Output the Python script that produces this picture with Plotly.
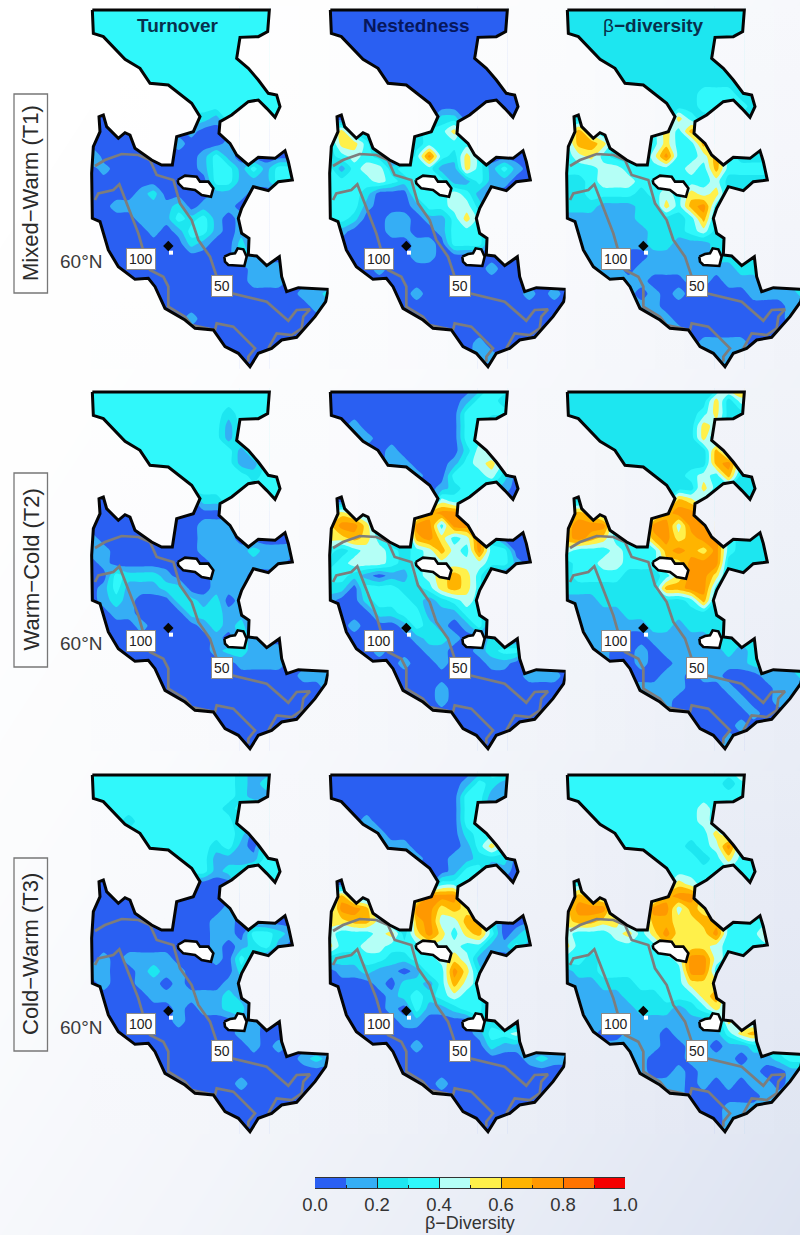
import plotly.graph_objects as go

W, H = 800, 1235
COL_X = [85, 323, 560]
ROW_Y = [0, 382, 765]
PANEL_W = [250, 250, 240]
PANEL_H = 375

CELL_U = [19, 56, 94, 131, 169, 206, 244, 281, 319, 356, 394, 431, 469, 506, 544, 581, 619, 656, 694, 731]
CELL_V = [19, 56, 94, 131, 169, 206, 244, 281, 319, 356, 394, 431, 469, 506, 544, 581, 619, 656, 694, 731, 769, 806,
          844, 881, 919, 956, 994, 1031, 1069, 1106]

LEVEL_COLORS = ["#2a5ff2", "#35aef5", "#1de6f0", "#30f8fb", "#b4fff6", "#fff04a", "#ffb400", "#ff9800", "#ff7400", "#f50000"]
BAR_TICKS = [0.0, 0.2, 0.4, 0.6, 0.8, 1.0]
BAR_VALUES = [0.05, 0.15, 0.25, 0.35, 0.45, 0.55, 0.65, 0.75, 0.85, 0.95]

COLUMN_TITLES = ["<b>Turnover</b>", "<b>Nestedness</b>", "β<b>−diversity</b>"]
TITLE_COLORS = ["#07304c", "#06175c", "#07304c"]
ROW_TITLES = ["Mixed−Warm (T1)", "Warm−Cold (T2)", "Cold−Warm (T3)"]
ROW_BOXES = [(94, 293), (473, 667), (858, 1051)]
BAR_TITLE = "β−Diversity"

MAP_U = [22, 553, 548, 520, 465, 455, 490, 520, 550, 575, 585, 570, 545, 520, 490, 440, 405, 402, 435, 455, 490, 520, 570,
         600, 610, 622, 580, 550, 505, 490, 470, 460, 470, 492, 490, 515, 545, 583, 590, 605, 640, 730, 722, 690, 660,
         635, 590, 560, 520, 495, 460, 420, 385, 330, 300, 240, 210, 190, 150, 100, 70, 45, 22, 20, 25, 45, 42, 55, 65,
         100, 120, 135, 150, 200, 230, 262, 275, 325, 345, 320, 250, 195, 165, 120, 55, 25, 22]
MAP_V = [30, 30, 95, 110, 112, 175, 205, 240, 280, 285, 320, 352, 325, 300, 305, 345, 365, 400, 430, 465, 495, 472, 475,
         452, 485, 540, 545, 572, 560, 590, 625, 655, 700, 715, 765, 768, 797, 770, 830, 875, 863, 868, 905, 950, 985,
         1012, 1020, 1045, 1060, 1100, 1060, 1040, 990, 985, 960, 925, 860, 835, 838, 800, 750, 665, 655, 520, 440, 395,
         350, 345, 380, 415, 398, 405, 445, 480, 495, 495, 410, 395, 350, 310, 255, 250, 205, 178, 110, 100, 30]
LAKE1_U = [278, 300, 335, 345, 370, 385, 378, 350, 330, 295, 280, 278]
LAKE1_V = [540, 527, 530, 545, 545, 565, 590, 585, 570, 565, 550, 540]
LAKE2_U = [418, 435, 450, 458, 475, 485, 478, 450, 430, 420, 418]
LAKE2_V = [770, 762, 760, 745, 748, 770, 798, 797, 795, 785, 770]
ISLET_U = [250]
ISLET_V = [738]
ISLET2_U = [258]
ISLET2_V = [758]
LINE50_U = [30, 60, 110, 160, 195, 215, 265, 285, 320, 340, 375, 395, 440, 545, 610, 635, 675, 655, 650, 620, 575, 565, 550]
LINE50_V = [498, 480, 462, 465, 480, 525, 540, 610, 660, 720, 770, 830, 880, 905, 962, 930, 928, 950, 985, 1005, 1000, 1020, 1045]
LINE100_U = [30, 40, 85, 103, 125, 160, 180, 195, 235, 250, 250, 300, 320, 390, 395, 445, 510, 490, 490]
LINE100_V = [600, 580, 570, 553, 610, 700, 770, 810, 830, 860, 920, 950, 975, 990, 970, 980, 1045, 1070, 1085]
LABEL_100 = (167, 777)
LABEL_50 = (410, 858)

T1_TURNOVER = ["3", "3", "3", "3", "3", "3", "3", "3", "3", "0000000022133333",
    "00000000100000000000", "00000001000110000000", "20000000013100000000", "01000000013313133333",
    "00000000003311133300", "00001200001110000000", "00111112011100000000", "00001113231010000000",
    "00000101331010000000", "00000000210020000000", "00000000000021000000", "00000000000001110000",
    "00000000000001110000", "00000000000000000112", "00000000000000000011", "00000000100000000000",
    "0", "0", "0", "0"]
T1_NESTEDNESS = ["0", "0", "0", "0", "0", "0", "0", "0", "0", "000000000220",
    "35210002335100000000", "25530002333300000000", "23432003732530000000", "31344233311531310000",
    "33334323331131100000", "33320003334310000000", "33310001334420000000", "33200110113530000000",
    "01000110013330000000", "00000001103330000000", "00000001100000000000", "00001000000001000000",
    "0", "00000001000000001010", "0", "0", "0", "00000000000010000000", "00000000000011000000", "0"]
T1_BETA = ["2", "2", "2", "2", "2", "2", "2", "22222222222333222222", "22222222222333322222", "22222222253222222222",
    "36422223536522222222", "36652223533632222222", "34532224733463222222", "33344333334363333322",
    "22344433333342222222", "22333323435452222222", "22211122536732222222", "11111122223622222222",
    "11111112223422222222", "11111112211122222222", "11111001111122222222", "11111011111111222222",
    "11111110001101112222", "11111101010000011112", "11111111000000000011", "11111111100000000011",
    "11111111110000000000", "11111111110111100000", "11111111111111100000", "11111111111111100000"]
T2_TURNOVER = ["3", "3", "33333333333233333333", "33333333333133333333", "33333333333133333333",
    "33333333333313333333", "33333333333311333333", "33333333333332333333", "3", "0000000002233333",
    "0", "00000000011100000000", "10000000011100000000", "11000000011112111000", "01000000001111110000",
    "00322210001110000000", "01311122001110000000", "01210002212010000000", "00110000222110000000",
    "00001000012120000000", "00000000001021000000", "00000000001221110000", "00000000000011110000",
    "00000000000000000111", "00000000000000000001", "0", "0", "0", "0", "0"]
T2_NESTEDNESS = ["000000000000133", "000000000001332", "00000000000333", "00100000000330000000", "00010000000330000000",
    "00000100000243000000", "00000110001345300000", "00000001003334200000", "00000000012332100000", "00000000043300000000",
    "45430003677600000000", "57752007737740000000", "55653106753472000000", "32344323464373300000",
    "23444323444443310000", "33210113456530000000", "22033322356530000000", "10023332123430000000",
    "00002233111330000000", "00100013210130000000", "00000001221002000000", "00001000110012330000",
    "00000010010001100000", "00000000000000001110", "00000000010000000000", "00000000010000000000",
    "0", "0", "0", "0"]
T2_BETA = ["222222222222256", "222222222222524", "22222222222352222222", "22222222222542222222", "22222222222522222222",
    "22222222222262222222", "22222222222267322222", "22222222223436222222", "22222222222532222222", "22222222265322222222",
    "56532223677622222222", "67772227747752222222", "67653336756773222222", "43334333676573222222",
    "23344333557772222222", "23333222357752222222", "22222222667732222222", "11122222223622222222",
    "11111222222222222222", "11111112212222222222", "11111001111122222222", "11110010111112122222",
    "11110010011111122222", "11111000110110001112", "11111111110001000111", "11111111100000100111",
    "11111111100000010000", "11111111110000100000", "11111111110001000000", "11111111110001000000"]
T3_TURNOVER = ["333333333333211", "333333333333212", "33333333333321", "33333333333233333333", "33323333333313333333",
    "33333333333320000000", "33333333332310333333", "33333333331111333333", "33333333331223333333", "00000000000033333333",
    "0", "00000000000100000000", "00000000001100000000", "00000000001103321000", "00000000001012310000",
    "01011110001031000000", "11001211000020000000", "01001101000110000000", "00000111111210000000",
    "00000001011220000000", "00000001000011000000", "00000000000011000000", "00000000000001010000",
    "00000000000000000121", "0", "00000000000010000000", "0", "0", "0", "0"]
T3_NESTEDNESS = ["000000000000133", "000000000001321", "00000000000331", "00000000000330000000", "00010000000330000000",
    "00001000000233000000", "00000110000135300000", "00000001001122200000", "00000000001330100000", "00000000033300000000",
    "36320003777300000000", "37762007756530000000", "55664206744662000000", "43334525753563013000",
    "53344333444331130000", "22233223345410000000", "01121101337520000000", "00001022136430000000",
    "00000123234330000000", "00000103112330000000", "00000011000022000000", "00000000000013340000",
    "00000001000002110000", "00000000000000001211", "0", "00000000010000000000", "0", "0", "0", "0"]
T3_BETA = ["333333333333335", "333333333333323", "3", "33333333333433333333", "33333333333433333333",
    "33333333333353333333", "33333333332347333333", "33333333333235333333", "3", "33333333354333333333",
    "46543333677533333333", "57773337746543333333", "56655336655663333333", "43334535755573335333",
    "53333333555543333333", "33233333347743333333", "12233333337733333333", "11122233335553333333",
    "11111222333563333333", "11111122212353333333", "11111111111115333333", "11100111011113563333",
    "11111111001101122333", "11111110001111011233", "11111110010111110011", "11111111110101011011",
    "11111111110000001111", "11111111111001111111", "11111111111101111111", "11111111111101111111"]

PANELS = [[T1_TURNOVER, T1_NESTEDNESS, T1_BETA], [T2_TURNOVER, T2_NESTEDNESS, T2_BETA], [T3_TURNOVER, T3_NESTEDNESS, T3_BETA]]


def hex_rgb(c):
    return tuple(int(c[i:i + 2], 16) for i in (1, 3, 5))


BG_END = hex_rgb("#dde3f1")
BG_STOPS = [0, 0.2, 0.4, 0.6, 0.8, 1]


def bg_color(t):
    f = t * t
    return "rgb(%d,%d,%d)" % tuple(round(255 + (e - 255) * f) for e in BG_END)


def page_t(x, y):
    return (x / W + y / H) / 2


stepped = []
for k, col in enumerate(LEVEL_COLORS):
    stepped += [[k / 10, col], [(k + 1) / 10, col]]


def grid(rows):
    return [[(int(ch) + 0.5) / 10 for ch in (r + r[-1] * 20)[:20]] for r in rows]


def clip_half(pts, bound, keep_above):
    out = []
    n = len(pts)
    for i in range(n):
        a, b = pts[i], pts[(i + 1) % n]
        ina = a[0] >= bound if keep_above else a[0] <= bound
        inb = b[0] >= bound if keep_above else b[0] <= bound
        if ina:
            out.append(a)
        if ina != inb:
            s = (bound - a[0]) / (b[0] - a[0])
            out.append((bound, a[1] + s * (b[1] - a[1])))
    return out


def clip_strip(u0, u1):
    pts = list(zip(MAP_U[:-1], MAP_V[:-1]))
    pts = clip_half(pts, u0, True)
    if pts:
        pts = clip_half(pts, u1, False)
    return pts


fig = go.Figure()
layout = dict(
    width=W, height=H, autosize=False, margin=dict(l=0, r=0, t=0, b=0, pad=0, autoexpand=False), showlegend=False,
    paper_bgcolor="white", plot_bgcolor="rgba(0,0,0,0)",
    font=dict(family="Liberation Sans, Arial, sans-serif", color="#2b2b2b"),
)

layout["xaxis"] = dict(domain=[0, 1], range=[0, 1], visible=False, fixedrange=True)
layout["yaxis"] = dict(domain=[0, 1], range=[1, 0], visible=False, fixedrange=True)
fig.add_trace(go.Heatmap(x=[0, 1], y=[0, 1], z=[[0, 0.5], [0.5, 1]], zmin=0, zmax=1, zsmooth="best", showscale=False,
                         hoverinfo="skip", colorscale=[[t, bg_color(t)] for t in BG_STOPS]))

annotations = []
shapes = []
idx = 2
MASK_L, MASK_R, MASK_T, MASK_B = 17, 733, 17, 1108
N_STRIPS = 8
for r, row_y in enumerate(ROW_Y):
    for c, col_x in enumerate(COL_X):
        xa, ya = f"x{idx}", f"y{idx}"
        layout[f"xaxis{idx}"] = dict(domain=[col_x / W, (col_x + PANEL_W[c]) / W], range=[0, PANEL_W[c] * 3],
                                     visible=False, fixedrange=True)
        layout[f"yaxis{idx}"] = dict(domain=[1 - (row_y + PANEL_H) / H, 1 - row_y / H], range=[PANEL_H * 3, 0],
                                     visible=False, fixedrange=True)
        fig.add_trace(go.Contour(x=CELL_U, y=CELL_V, z=grid(PANELS[r][c]), xaxis=xa, yaxis=ya, zmin=0, zmax=1,
                                 autocontour=False, contours=dict(start=0, end=1, size=0.1, coloring="fill"),
                                 colorscale=stepped, showscale=False, line=dict(width=0, smoothing=0.7),
                                 hoverinfo="skip"))
        y_top, y_bot = row_y + MASK_T / 3, row_y + MASK_B / 3
        for k in range(N_STRIPS):
            u0 = MASK_L + (MASK_R - MASK_L) * k / N_STRIPS - (1.5 if k else 0)
            u1 = MASK_L + (MASK_R - MASK_L) * (k + 1) / N_STRIPS
            xc = col_x + (u0 + u1) / 6
            scale = [[j / 5, bg_color(page_t(xc, y_top + (y_bot - y_top) * j / 5))] for j in range(6)]
            hole = clip_strip(u0, u1)
            mu = [u0, u0, u1, u1, u0]
            mv = [MASK_T, MASK_B, MASK_B, MASK_T, MASK_T]
            if hole:
                mu += [None] + [p[0] for p in hole] + [hole[0][0]]
                mv += [None] + [p[1] for p in hole] + [hole[0][1]]
            fig.add_trace(go.Scatter(x=mu, y=mv, xaxis=xa, yaxis=ya, mode="lines", line=dict(width=0), fill="toself",
                                     hoverinfo="skip",
                                     fillgradient=dict(type="vertical", colorscale=scale, start=MASK_T, stop=MASK_B)))
        for lu, lv in ((LINE50_U, LINE50_V), (LINE100_U, LINE100_V)):
            fig.add_trace(go.Scatter(x=lu, y=lv, xaxis=xa, yaxis=ya, mode="lines", hoverinfo="skip",
                                     line=dict(color="#7d7d7d", width=2.7)))
        fig.add_trace(go.Scatter(x=MAP_U, y=MAP_V, xaxis=xa, yaxis=ya, mode="lines", hoverinfo="skip",
                                 line=dict(color="#050505", width=3)))
        for lu, lv in ((LAKE1_U, LAKE1_V), (LAKE2_U, LAKE2_V)):
            fig.add_trace(go.Scatter(x=lu, y=lv, xaxis=xa, yaxis=ya, mode="lines", hoverinfo="skip", fill="toself",
                                     fillcolor="white", line=dict(color="#050505", width=2.6)))
        fig.add_trace(go.Scatter(x=ISLET2_U, y=ISLET2_V, xaxis=xa, yaxis=ya, mode="markers", hoverinfo="skip",
                                 marker=dict(symbol="square", size=4, color="white")))
        fig.add_trace(go.Scatter(x=ISLET_U, y=ISLET_V, xaxis=xa, yaxis=ya, mode="markers", hoverinfo="skip",
                                 marker=dict(symbol="diamond", size=8, color="#050505")))
        for txt, pos in (("100", LABEL_100), ("50", LABEL_50)):
            annotations.append(dict(x=pos[0], y=pos[1], xref=xa, yref=ya, text=txt, showarrow=False,
                                    font=dict(size=14, color="#222222"), bgcolor="white", bordercolor="#8a8a8a",
                                    borderwidth=1, borderpad=2))
        if r == 0:
            annotations.append(dict(x=279, y=75, xref=xa, yref=ya, text=COLUMN_TITLES[c], showarrow=False,
                                    font=dict(size=19, color=TITLE_COLORS[c])))
        idx += 1

for r, label in enumerate(ROW_TITLES):
    top, bot = ROW_BOXES[r]
    shapes.append(dict(type="rect", xref="paper", yref="paper", x0=14 / W, x1=47.5 / W, y0=1 - bot / H, y1=1 - top / H,
                       line=dict(color="#777777", width=1.3)))
    annotations.append(dict(x=30.5 / W, y=1 - (top + bot) / 2 / H, xref="paper", yref="paper", text=label, showarrow=False,
                            xanchor="center", yanchor="middle", textangle=-90, font=dict(size=22, color="#2a2a2a")))
    annotations.append(dict(x=81 / W, y=1 - (ROW_Y[r] + 262) / H, xref="paper", yref="paper", text="60°N", showarrow=False,
                            xanchor="center", yanchor="middle", font=dict(size=19, color="#3a3a3a")))

xa, ya = f"x{idx}", f"y{idx}"
layout[f"xaxis{idx}"] = dict(domain=[315 / W, 625 / W], range=[0, 1], fixedrange=True, tickvals=BAR_TICKS,
                             ticktext=[f"{t:.1f}" for t in BAR_TICKS], ticks="inside", ticklen=10, tickcolor="#222222",
                             tickwidth=1, tickfont=dict(size=18.5, color="#333333"), showline=True, linecolor="#333333",
                             linewidth=1, mirror=True, showgrid=False, zeroline=False, anchor=ya,
                             minor=dict(dtick=0.1, ticks="inside", ticklen=3, tickcolor="#222222", showgrid=False))
layout[f"yaxis{idx}"] = dict(domain=[1 - 1188 / H, 1 - 1178 / H], range=[0, 1], visible=False, fixedrange=True, anchor=xa)
fig.add_trace(go.Heatmap(x=BAR_VALUES, y=[0.5], z=[BAR_VALUES], xaxis=xa, yaxis=ya, zmin=0, zmax=1, showscale=False,
                         colorscale=stepped, hoverinfo="skip"))
annotations.append(dict(x=470 / W, y=1 - 1223 / H, xref="paper", yref="paper", text=BAR_TITLE, showarrow=False,
                        xanchor="center", yanchor="middle", font=dict(size=18, color="#333333")))

layout["annotations"] = annotations
layout["shapes"] = shapes
fig.update_layout(**layout)
fig.write_html("out.html", config={"displayModeBar": False}, post_script="document.body.style.margin='0';")
